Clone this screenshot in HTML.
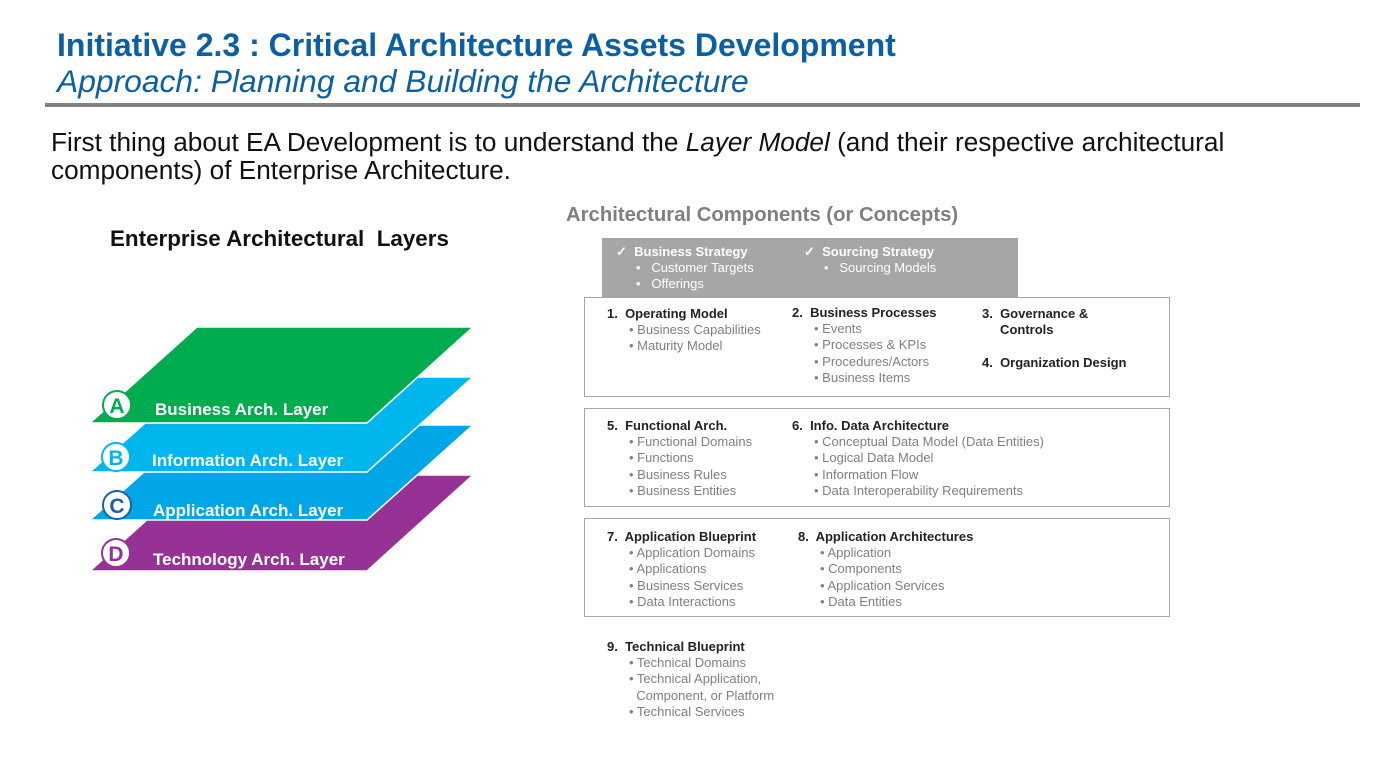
<!DOCTYPE html>
<html><head><meta charset="utf-8"><style>
body{margin:0;width:1398px;height:757px;background:#fff;font-family:"Liberation Sans",Arial,sans-serif;position:relative;overflow:hidden}
.a{position:absolute;white-space:nowrap}
.box{position:absolute;border:1.5px solid #a6a6a6;box-sizing:border-box}
.h{font-size:13px;font-weight:bold;color:#222;line-height:16px}
.i{font-size:13px;color:#7f7f7f;line-height:16.3px;padding-left:22px}
.g{font-size:13px;color:#fff;line-height:16px}
</style></head><body>
<div class="a" style="left:57px;top:27px;font-size:32px;font-weight:bold;color:#0b5fa5">Initiative 2.3 : Critical Architecture Assets Development</div>
<div class="a" style="left:57px;top:63px;font-size:31.8px;font-style:italic;color:#0b5fa5">Approach: Planning and Building the Architecture</div>
<div style="position:absolute;left:45px;top:103px;width:1315px;height:4px;background:#808080"></div>
<div class="a" style="left:51px;top:128px;font-size:26.2px;color:#111;line-height:28px">First thing about EA Development is to understand the <i>Layer Model</i> (and their respective architectural<br>components) of Enterprise Architecture.</div>
<div class="a" style="left:110px;top:226px;font-size:22.4px;font-weight:bold;color:#111">Enterprise Architectural &nbsp;Layers</div>
<svg style="position:absolute;left:0;top:0" width="600" height="600">
<polygon points="197,475 473,475 367,571 90,571" fill="#963296" stroke="#fff" stroke-width="1.5"/>
<polygon points="197,425 473,425 367,520 90,520" fill="#00a6e6" stroke="#fff" stroke-width="1.5"/>
<polygon points="197,377 473,377 367,472 90,472" fill="#00b6ec" stroke="#fff" stroke-width="1.5"/>
<polygon points="197,327 473,327 367,423 90,423" fill="#00ac4d" stroke="#fff" stroke-width="1.5"/>
<g font-family="Liberation Sans,Arial,sans-serif" font-weight="bold">
<circle cx="117" cy="405" r="14" fill="#fff" stroke="#00ac4d" stroke-width="2"/><text x="117" y="413" font-size="21" fill="#00ac4d" text-anchor="middle">A</text>
<circle cx="116" cy="457" r="14" fill="#fff" stroke="#00b6ec" stroke-width="2"/><text x="116" y="465" font-size="21" fill="#00b6ec" text-anchor="middle">B</text>
<circle cx="117" cy="505" r="14" fill="#fff" stroke="#1b5faa" stroke-width="2"/><text x="117" y="513" font-size="21" fill="#1b5faa" text-anchor="middle">C</text>
<circle cx="116" cy="553" r="14" fill="#fff" stroke="#963296" stroke-width="2"/><text x="116" y="561" font-size="21" fill="#963296" text-anchor="middle">D</text>
<g fill="#fff" font-size="17">
<text x="155" y="415">Business Arch. Layer</text>
<text x="152" y="466">Information Arch. Layer</text>
<text x="153" y="516">Application Arch. Layer</text>
<text x="153" y="565">Technology Arch. Layer</text>
</g></g></svg>
<div class="a" style="left:566px;top:204px;font-size:20.3px;font-weight:bold;color:#7f7f7f">Architectural Components (or Concepts)</div>
<div style="position:absolute;left:602px;top:238px;width:416px;height:59px;background:#a6a6a6"></div>
<div class="a g" style="left:616px;top:244px"><b>✓ &nbsp;Business Strategy</b><br><span style="padding-left:20px">•&nbsp;&nbsp;&nbsp;Customer Targets</span><br><span style="padding-left:20px">•&nbsp;&nbsp;&nbsp;Offerings</span></div>
<div class="a g" style="left:804px;top:244px"><b>✓ &nbsp;Sourcing Strategy</b><br><span style="padding-left:20px">•&nbsp;&nbsp;&nbsp;Sourcing Models</span></div>
<div class="box" style="left:584px;top:297px;width:586px;height:100px"></div>
<div class="a" style="left:607px;top:306px"><div class="h">1.&nbsp; Operating Model</div><div class="i">• Business Capabilities<br>• Maturity Model</div></div>
<div class="a" style="left:792px;top:305px"><div class="h">2.&nbsp; Business Processes</div><div class="i">• Events<br>• Processes &amp; KPIs<br>• Procedures/Actors<br>• Business Items</div></div>
<div class="a h" style="left:982px;top:306px">3.&nbsp; Governance &amp;<br>&nbsp;&nbsp;&nbsp;&nbsp;&nbsp;Controls</div>
<div class="a h" style="left:982px;top:355px">4.&nbsp; Organization Design</div>
<div class="box" style="left:584px;top:408px;width:586px;height:99px"></div>
<div class="a" style="left:607px;top:418px"><div class="h">5.&nbsp; Functional Arch.</div><div class="i">• Functional Domains<br>• Functions<br>• Business Rules<br>• Business Entities</div></div>
<div class="a" style="left:792px;top:418px"><div class="h">6.&nbsp; Info. Data Architecture</div><div class="i">• Conceptual Data Model (Data Entities)<br>• Logical Data Model<br>• Information Flow<br>• Data Interoperability Requirements</div></div>
<div class="box" style="left:584px;top:518px;width:586px;height:99px"></div>
<div class="a" style="left:607px;top:529px"><div class="h">7.&nbsp; Application Blueprint</div><div class="i">• Application Domains<br>• Applications<br>• Business Services<br>• Data Interactions</div></div>
<div class="a" style="left:798px;top:529px"><div class="h">8.&nbsp; Application Architectures</div><div class="i">• Application<br>• Components<br>• Application Services<br>• Data Entities</div></div>
<div class="a" style="left:607px;top:639px"><div class="h">9.&nbsp; Technical Blueprint</div><div class="i">• Technical Domains<br>• Technical Application,<br>&nbsp;&nbsp;Component, or Platform<br>• Technical Services</div></div>
</body></html>
